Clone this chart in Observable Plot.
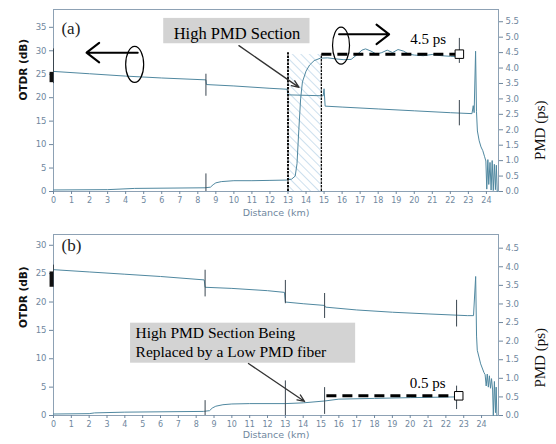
<!DOCTYPE html>
<html><head><meta charset="utf-8">
<script src="https://cdn.jsdelivr.net/npm/d3@7"></script>
<script src="https://cdn.jsdelivr.net/npm/@observablehq/plot@0.6"></script>
<style>
body{margin:0;background:#fff;}
#wrap{width:556px;}
#wrap svg{display:block;}
</style></head><body><div id="wrap"></div>
<script>
// ---------- data ----------
const distTicks = d3.range(0, 25);
const otdrTicksA = [0, 5, 10, 15, 20, 25, 30, 35];
const pmdTicksA = [0, 0.5, 1, 1.5, 2, 2.5, 3, 3.5, 4, 4.5, 5, 5.5];
const otdrTicksB = [0, 5, 10, 15, 20, 25, 30];
const pmdTicksB = [0, 0.5, 1, 1.5, 2, 2.5, 3, 3.5, 4, 4.5];

// panel (a) OTDR trace: [km, dB]
const otdrA = [[0,25.6],[2,25.1],[4,24.6],[6,24.2],[8.45,23.8],[8.48,22.8],[10,22.5],[12,22.0],[12.95,21.8],[13.0,20.6],[14,20.5],[14.95,20.4],[15.0,21.9],[15.06,18.2],[16,18.0],[18,17.6],[20,17.2],[22,16.8],[23.2,16.6],[23.27,18.3],[23.32,16.8],[23.4,29.9],[23.45,17],[23.5,12.9],[23.6,10.8],[23.7,9.5],[23.8,8.7],[23.9,7.4],[23.97,6.5],[24.02,0.5],[24.08,6.8],[24.13,1.5],[24.2,6.2],[24.26,0.3],[24.32,6.6],[24.38,0.2],[24.44,5.8],[24.5,0.4],[24.55,5.6],[24.6,0]];
// panel (a) PMD trace: [km, ps]
const pmdA = [[0,0.05],[3,0.06],[4.5,0.1],[8.4,0.12],[8.7,0.14],[8.85,0.22],[9.0,0.28],[9.3,0.32],[10,0.35],[11,0.35],[12,0.36],[12.9,0.37],[13.2,0.4],[13.4,0.5],[13.5,0.9],[13.6,2.0],[13.7,3.0],[13.8,3.55],[14.0,3.9],[14.2,4.1],[14.45,4.24],[14.8,4.32],[15.2,4.33],[15.6,4.3],[16.1,4.27],[16.5,4.28],[16.8,4.42],[17.1,4.58],[17.3,4.62],[17.6,4.55],[17.9,4.45],[18.2,4.5],[18.5,4.58],[18.8,4.5],[19.1,4.6],[19.4,4.55],[19.7,4.45],[20.0,4.42],[20.5,4.4],[21.0,4.44],[21.5,4.4],[22.0,4.38],[22.4,4.37]];
// panel (b) OTDR trace
const otdrB = [[0,25.7],[2,25.3],[4,24.9],[6,24.5],[8.45,23.9],[8.5,22.6],[10,22.4],[12,22.0],[12.95,21.7],[13.0,20.0],[14,19.7],[15.2,19.4],[15.25,19.1],[17,18.6],[19,18.2],[21,17.9],[23.2,17.6],[23.55,17.6],[23.67,24.5],[23.72,14],[23.76,11.5],[23.95,9.1],[24.13,7.6],[24.2,7.2],[24.26,5.2],[24.32,7.3],[24.38,5.0],[24.44,7.0],[24.5,4.8],[24.56,6.5],[24.62,4.5],[24.66,0],[24.72,6],[24.78,0.5],[24.82,5],[24.86,0]];
// panel (b) PMD trace
const pmdB = [[0,0.04],[2,0.05],[2.3,0.07],[4,0.09],[8.4,0.11],[8.75,0.13],[8.9,0.2],[9.1,0.25],[9.5,0.29],[10,0.31],[11,0.32],[13,0.32],[14,0.34],[15.2,0.39],[16,0.44],[18,0.46],[20,0.48],[22.6,0.5]];

// event markers [km, from, to]  (dB for OTDR, ps for PMD)
const eventsOtdrA = [[0,23.0,30.4],[8.45,20.3,25.0],[22.5,14.0,19.4]];
const eventsPmdA = [[8.45,0,0.57],[22.5,4.15,4.96]];
const eventsOtdrB = [[0,22.6,26.5],[8.5,20.9,25.6],[13.0,19.7,23.8],[15.2,17.1,21.5],[22.6,15.6,20.3]];
const eventsPmdB = [[8.5,0,0.4],[13.0,0,0.93],[15.2,0.03,0.75],[22.6,0.16,0.79]];

// ---------- style ----------
const traceColor = "#5088a0";
const axisColor = "#6f879e";
const frameColor = "#8da1b4";

function ellipse(rx, ry) {
  const k = 0.5523;
  return {draw(ctx) {
    ctx.moveTo(rx, 0);
    ctx.bezierCurveTo(rx, ry*k, rx*k, ry, 0, ry);
    ctx.bezierCurveTo(-rx*k, ry, -rx, ry*k, -rx, 0);
    ctx.bezierCurveTo(-rx, -ry*k, -rx*k, -ry, 0, -ry);
    ctx.bezierCurveTo(rx*k, -ry, rx, -ry*k, rx, 0);
    ctx.closePath();
  }};
}

function panel(cfg) {
  const k = cfg.k;
  const marks = [
    Plot.frame({stroke: frameColor}),
    Plot.axisX(distTicks, {anchor: "bottom", tickSize: 3, tickPadding: 3, label: null, color: axisColor, fontSize: 8}),
    Plot.axisY(cfg.otdrTicks, {anchor: "left", tickSize: 4, tickPadding: 3, label: null, color: axisColor, fontSize: 8.5}),
    Plot.axisY(cfg.pmdTicks.map(v => v * k), {anchor: "right", tickSize: 4, tickPadding: 3, label: null, color: axisColor, fontSize: 8.5, tickFormat: d => (d / k).toFixed(1)}),
  ];
  if (cfg.hatch) {
    marks.push(Plot.rect([cfg.hatch], {x1: "x1", x2: "x2", y1: "y1", y2: "y2", fill: "#abcdef"}));
  }
  marks.push(
    Plot.line(cfg.otdr, {x: d => d[0], y: d => d[1], stroke: traceColor, strokeWidth: 1}),
    Plot.line(cfg.pmd, {x: d => d[0], y: d => d[1] * k, stroke: traceColor, strokeWidth: 1}),
    Plot.ruleX(cfg.evOtdr, {x: d => d[0], y1: d => d[1], y2: d => d[2], stroke: "#3a4650", strokeWidth: 1}),
    Plot.ruleX(cfg.evPmd, {x: d => d[0], y1: d => d[1] * k, y2: d => d[2] * k, stroke: "#3a4650", strokeWidth: 1}),
    Plot.ruleX([cfg.bar], {x: d => d[0], y1: d => d[1], y2: d => d[2], stroke: "#111", strokeWidth: 3.5, dx: -2.2})
  );
  if (cfg.dotted) {
    marks.push(Plot.ruleX(cfg.dotted, {x: "x", y1: "y1", y2: "y2", stroke: "#111", strokeWidth: d => d.w, strokeDasharray: "2.5,1"}));
  }
  // dashed level line + square end marker
  marks.push(
    Plot.link([cfg.level], {x1: "x1", x2: "x2", y1: d => d.ps * k, y2: d => d.ps * k, stroke: "#000", strokeWidth: 3, strokeDasharray: "10,6"}),
    Plot.dot([cfg.level], {x: "xs", y: d => d.ps * k, symbol: "square", r: 4.8, fill: "white", stroke: "#000", strokeWidth: 1}),
    Plot.text([cfg.level], {x: "tx", y: d => d.ty * k, text: "label", textAnchor: "start", fontFamily: "Liberation Serif", fontSize: 15, fill: "#000"})
  );
  // annotation box + callout
  marks.push(
    Plot.rect([cfg.box], {x1: "x1", x2: "x2", y1: "y1", y2: "y2", fill: "#d3d3d3"}),
    Plot.text([cfg.box], {x: "tx", y: "ty", text: "label", textAnchor: cfg.box.anchor, lineAnchor: cfg.box.lineAnchor, lineHeight: 1.17, fontFamily: "Liberation Serif", fontSize: cfg.box.fs, fill: "#000"}),
    Plot.arrow([cfg.callout], {x1: "x1", y1: "y1", x2: "x2", y2: "y2", stroke: "#333", strokeWidth: 1.3, headLength: 9, headAngle: 45})
  );
  if (cfg.bigArrows) {
    marks.push(
      Plot.arrow(cfg.bigArrows, {x1: "x1", y1: "y1", x2: "x2", y2: "y2", stroke: "#000", strokeWidth: 2, headLength: 12, headAngle: 75}),
      Plot.dot(cfg.ellipses, {x: "x", y: "y", symbol: d => ellipse(d.rx, d.ry), stroke: "#000", strokeWidth: 1.2, fill: "none"})
    );
  }
  marks.push(
    Plot.text([cfg.tag], {x: "x", y: "y", text: "label", textAnchor: "start", fontFamily: "Liberation Serif", fontSize: 17, fill: "#222"}),
    Plot.text(["Distance (km)"], {frameAnchor: "bottom", dy: cfg.distDy, text: d => d, fontFamily: "DejaVu Sans", fontSize: 9.5, fill: axisColor}),
    Plot.text(["OTDR (dB)"], {frameAnchor: "left", dx: -30, dy: cfg.labDy, rotate: -90, text: d => d, fontFamily: "DejaVu Sans", fontWeight: "bold", fontSize: 10.5, fill: "#111"}),
    Plot.text(["PMD (ps)"], {frameAnchor: "right", dx: 42, dy: cfg.labDy, rotate: -90, text: d => d, fontFamily: "Liberation Serif", fontSize: 15, fill: "#111"})
  );
  const svg = Plot.plot({
    width: 556, height: 222,
    marginLeft: 53, marginRight: 58, marginTop: cfg.mt, marginBottom: cfg.mb,
    style: {background: "white", overflow: "visible", fontFamily: "DejaVu Sans"},
    x: {domain: cfg.xdom, label: null},
    y: {domain: cfg.ydom, label: null},
    marks
  });
  if (cfg.hatch) {
    const ns = "http://www.w3.org/2000/svg";
    const defs = document.createElementNS(ns, "defs");
    defs.innerHTML = '<pattern id="hatchA" patternUnits="userSpaceOnUse" width="6" height="6" patternTransform="rotate(-45)"><line x1="0" y1="0" x2="0" y2="6" stroke="#9cc2de" stroke-width="1"/></pattern>';
    svg.insertBefore(defs, svg.firstChild);
    svg.querySelectorAll('[fill="#abcdef"]').forEach(el => el.setAttribute("fill", "url(#hatchA)"));
  }
  return svg;
}

const kA = 6.58, kB = 6.553;

const chartA = panel({
  k: kA, xdom: [0, 24.67], ydom: [0, 38.8], mt: 9, mb: 31, distDy: 24, labDy: 0,
  otdrTicks: otdrTicksA, pmdTicks: pmdTicksA,
  otdr: otdrA, pmd: pmdA, evOtdr: eventsOtdrA, evPmd: eventsPmdA,
  bar: [0, 23.2, 25.4],
  hatch: {x1: 13.0, x2: 14.85, y1: 0, y2: 29.2},
  dotted: [{x: 13.0, y1: 0, y2: 29.6, w: 2}, {x: 14.85, y1: 0, y2: 29.2, w: 1.3}],
  level: {x1: 14.85, x2: 22.3, ps: 4.45, xs: 22.5, label: "4.5 ps", tx: 19.78, ty: 4.92},
  box: {x1: 6.11, x2: 14.22, y1: 31.5, y2: 36.9, tx: 10.17, ty: 33.85, anchor: "middle", lineAnchor: "middle", fs: 16.5, label: "High PMD Section"},
  callout: {x1: 10.28, y1: 31.1, x2: 13.61, y2: 22.2},
  bigArrows: [{x1: 4.67, y1: 29.6, x2: 1.83, y2: 29.6}, {x1: 15.83, y1: 33.5, x2: 18.61, y2: 33.5}],
  ellipses: [{x: 4.5, y: 27.1, rx: 9, ry: 18}, {x: 15.94, y: 31.1, rx: 8.5, ry: 18.5}],
  tag: {x: 0.44, y: 34.8, label: "(a)"}
});

const chartB = panel({
  k: kB, xdom: [0, 24.95], ydom: [0, 31.9], mt: 12, mb: 29, distDy: 22, labDy: 3,
  otdrTicks: otdrTicksB, pmdTicks: pmdTicksB,
  otdr: otdrB, pmd: pmdB, evOtdr: eventsOtdrB, evPmd: eventsPmdB,
  bar: [0, 22.6, 25.3],
  level: {x1: 15.3, x2: 22.5, ps: 0.53, xs: 22.72, label: "0.5 ps", tx: 19.97, ty: 0.88},
  box: {x1: 4.32, x2: 16.94, y1: 9.22, y2: 16.27, tx: 4.6, ty: 15.85, anchor: "start", lineAnchor: "top", fs: 15.5, label: "High PMD Section Being\nReplaced by a Low PMD fiber"},
  callout: {x1: 10.93, y1: 9.16, x2: 14.08, y2: 2.47},
  tag: {x: 0.45, y: 30.0, label: "(b)"}
});

document.getElementById("wrap").append(chartA, chartB);
</script>
</body></html>
